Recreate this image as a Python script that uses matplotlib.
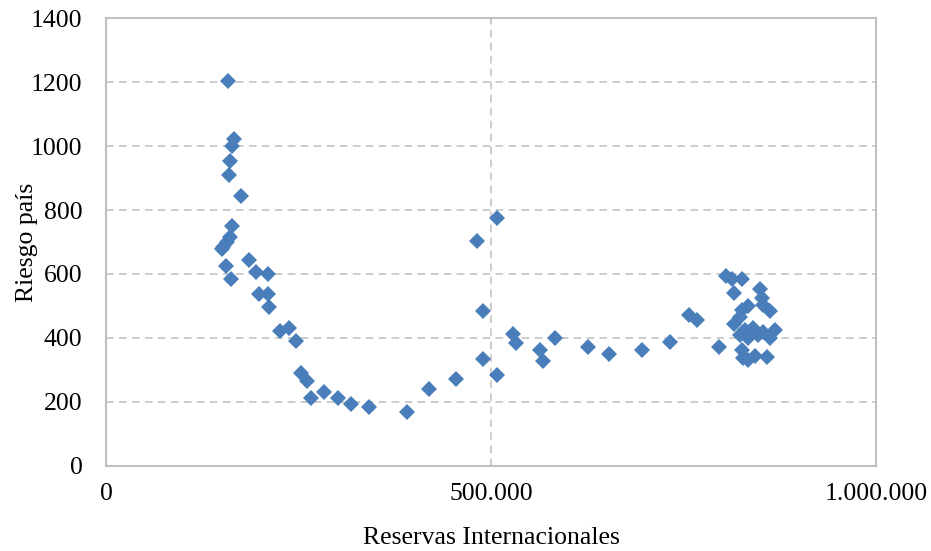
import matplotlib
matplotlib.use("Agg")
from matplotlib import pyplot as plt
from matplotlib.ticker import FuncFormatter, MultipleLocator

# Reservas internacionales vs riesgo pais
reservas = [
    158400, 166000, 164000, 161000, 160000, 175000, 163000, 161000, 156800,
    152300, 150300, 155800, 162700, 186000, 194800, 210000, 199000, 210400,
    211700, 226000, 237700, 247000, 253000, 260600, 266000,
    283500, 301300, 317800, 342000, 391000, 419000, 454500, 481800, 508000,
    490000, 489000, 508000, 528000, 532000, 563600, 567000, 583000, 626000,
    653000, 696500, 732500, 756700, 767000,
    796000, 805000, 813000, 826000, 815600, 849000, 852000, 853000, 826000,
    834000, 823000, 862000, 815600, 823000, 830000, 840000, 847000, 853000,
    869000, 862000, 834000, 826000, 827000, 834000, 843000, 858000,
]
riesgo = [
    1203, 1022, 1000, 953, 909, 844, 749, 717, 701,
    685, 678, 626, 584, 644, 607, 599, 537, 537,
    498, 423, 432, 391, 290, 267, 212,
    232, 212, 193, 185, 169, 242, 272, 703, 776,
    484, 333, 283, 412, 383, 362, 328, 401, 372,
    350, 362, 387, 471, 456,
    372, 594, 584, 584, 541, 553, 525, 503, 487,
    500, 466, 484, 444, 409, 425, 431, 409, 419,
    425, 400, 400, 362, 337, 331, 344, 341,
]

plt.rcParams['font.family'] = ['Liberation Serif', 'DejaVu Serif']
plt.rcParams['font.size'] = 18.5

fig = plt.figure(figsize=(9.31, 5.51), dpi=100)
ax = fig.add_axes([0.1139, 0.1543, 0.8270, 0.8130])

ax.plot(reservas, riesgo, linestyle='none', marker='D', markersize=8.3,
        color='#4A7EBB', markeredgewidth=0, zorder=3)

ax.set_xlim(0, 1000000)
ax.set_ylim(0, 1400)
ax.xaxis.set_major_locator(MultipleLocator(500000))
ax.yaxis.set_major_locator(MultipleLocator(200))
ax.xaxis.set_major_formatter(FuncFormatter(lambda v, p: f"{int(v):,}".replace(',', '.')))

# grid dashed gray, frame gray
ax.grid(True, color='#BFBFBF', linewidth=1.1, linestyle=(0, (5, 3.5)))
ax.set_axisbelow(True)
for s in ax.spines.values():
    s.set_color('#BFBFBF')
    s.set_linewidth(1.5)
ax.tick_params(length=0)
ax.tick_params(axis='y', pad=17)
ax.tick_params(axis='x', pad=12)

ax.set_xlabel('Reservas Internacionales', labelpad=16)
ax.set_ylabel('Riesgo país', labelpad=-5)

fig.savefig('out.png', dpi=100)
